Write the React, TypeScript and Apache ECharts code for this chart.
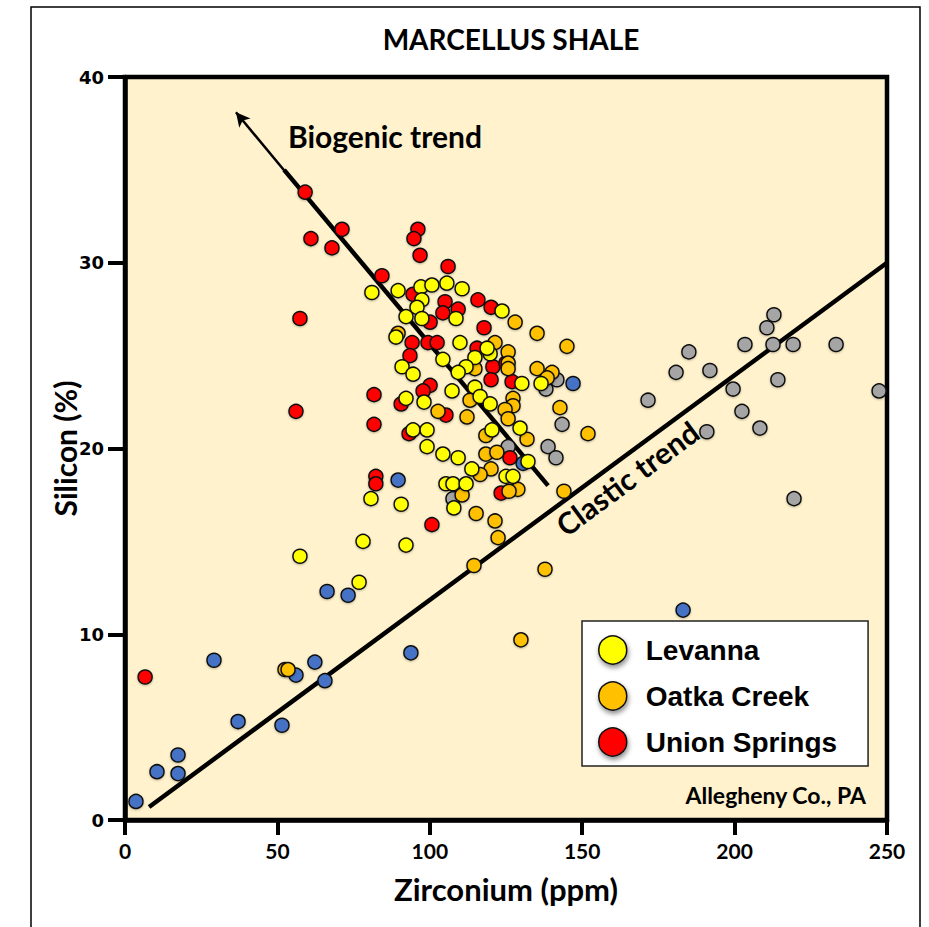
import React, { useEffect, useRef } from "react";
import * as echarts from "echarts";

// Zirconium (ppm) vs Silicon (%) samples, by member
const levanna: number[][] = [
  [81.0, 28.4], [89.6, 28.5], [97.1, 28.7], [100.7, 28.8], [105.6, 28.9], [110.6, 28.6],
  [97.4, 28.0], [95.8, 27.6], [97.4, 27.0], [92.2, 27.1], [108.6, 27.0], [123.7, 27.4],
  [88.9, 26.0], [109.9, 25.7], [104.3, 24.8], [114.8, 24.9], [119.8, 25.1], [118.8, 25.4],
  [90.9, 24.4], [94.5, 24.0], [111.9, 24.4], [109.3, 24.1], [130.2, 23.5], [136.5, 23.5],
  [107.3, 23.1], [114.8, 23.3], [116.5, 22.8], [119.8, 22.4], [92.2, 22.7], [98.1, 22.5],
  [94.5, 21.0], [99.1, 21.0], [120.4, 21.0], [129.6, 21.1], [99.1, 20.1], [104.3, 19.7],
  [109.3, 19.5], [113.8, 18.9], [132.2, 19.3], [105.3, 18.1], [107.6, 18.1], [111.9, 18.1],
  [125.0, 18.5], [127.3, 18.5], [107.9, 16.8], [90.6, 17.0], [80.7, 17.3], [92.2, 14.8],
  [78.1, 15.0], [76.8, 12.8], [57.4, 14.2],
];

const oatkaCreek: number[][] = [
  [128.0, 26.8], [135.2, 26.2], [145.0, 25.5], [121.4, 25.7], [89.6, 26.2], [125.7, 25.2],
  [125.7, 24.6], [125.7, 24.3], [135.2, 24.3], [140.1, 24.1], [138.5, 23.8], [114.8, 24.3],
  [127.3, 22.7], [127.3, 22.3], [113.2, 22.6], [124.7, 22.1], [102.7, 22.0], [112.2, 21.7],
  [125.7, 21.6], [142.7, 22.2], [118.4, 20.7], [131.9, 20.5], [118.4, 19.7], [122.0, 19.8],
  [120.1, 18.9], [116.5, 18.6], [128.9, 17.8], [126.0, 17.7], [110.6, 17.5], [115.2, 16.5],
  [121.4, 16.1], [122.4, 15.2], [144.0, 17.7], [151.9, 20.8], [114.5, 13.7], [137.8, 13.5],
  [129.9, 9.7], [52.5, 8.1], [53.5, 8.1],
];

const unionSprings: number[][] = [
  [59.1, 33.8], [61.0, 31.3], [71.2, 31.8], [67.9, 30.8], [96.1, 31.8], [94.8, 31.3],
  [96.8, 30.4], [84.3, 29.3], [106.0, 29.8], [94.5, 28.3], [105.0, 27.9], [104.3, 27.3],
  [109.3, 27.5], [100.1, 26.8], [115.8, 28.0], [120.1, 27.6], [117.8, 26.5], [94.2, 25.7],
  [99.4, 25.7], [102.4, 25.7], [93.5, 25.0], [115.5, 25.4], [120.7, 24.4], [120.1, 23.7],
  [127.0, 23.6], [125.0, 24.6], [100.1, 23.4], [97.8, 23.1], [90.6, 22.4], [81.7, 22.9],
  [105.3, 21.8], [81.7, 21.3], [93.2, 20.8], [57.4, 27.0], [56.1, 22.0], [82.3, 18.5],
  [82.3, 18.1], [126.3, 19.5], [123.4, 17.6], [100.7, 15.9], [6.6, 7.7],
];

// Samples plotted without a legend entry
const otherBlue: number[][] = [
  [147.0, 23.5], [130.6, 19.2], [89.6, 18.3], [66.3, 12.3], [73.2, 12.1], [29.2, 8.6],
  [56.1, 7.8], [62.3, 8.5], [65.6, 7.5], [93.8, 9.0], [37.1, 5.3], [51.5, 5.1],
  [17.4, 3.5], [10.5, 2.6], [17.4, 2.5], [3.6, 1.0], [183.1, 11.3],
];

const otherGray: number[][] = [
  [212.9, 27.2], [210.6, 26.5], [203.4, 25.6], [212.6, 25.6], [219.2, 25.6], [233.3, 25.6],
  [185.0, 25.2], [180.8, 24.1], [191.9, 24.2], [214.2, 23.7], [247.4, 23.1], [199.5, 23.2],
  [171.6, 22.6], [202.4, 22.0], [208.3, 21.1], [190.9, 20.9], [219.5, 17.3], [141.7, 23.7],
  [138.1, 23.2], [143.4, 21.3], [138.8, 20.1], [141.4, 19.5], [125.7, 20.1], [107.6, 17.3],
];

// Trend lines in data units
const biogenicTrend: number[][] = [[52.2, 35.0], [138.8, 18.0]];
const biogenicArrow: number[][] = [[54.1, 34.6], [36.4, 38.1]];
const clasticTrend: number[][] = [[7.9, 0.7], [250, 30.0]];

const xTicks = { min: 0, max: 250, interval: 50 };
const yTicks = { min: 0, max: 40, interval: 10 };

const CALIBRI = "Lato, 'Open Sans', sans-serif";

const pointStyle = (color: string) => ({
  color,
  opacity: 1,
  borderColor: "#111",
  borderWidth: 1.5,
  shadowBlur: 2,
  shadowColor: "rgba(0,0,0,0.25)",
  shadowOffsetY: 1,
});

const scatter = (name: string, data: number[][], color: string) => ({
  name,
  type: "scatter",
  data,
  symbol: "circle",
  symbolSize: 14,
  z: 3,
  itemStyle: pointStyle(color),
});

export default function App() {
  const ref = useRef<HTMLDivElement>(null);

  useEffect(() => {
    const chart = echarts.init(ref.current!, null, { renderer: "svg" });
    chart.setOption({
      animation: false,
      backgroundColor: "#ffffff",
      title: {
        text: "MARCELLUS SHALE",
        left: 506,
        top: 20,
        textAlign: "center",
        textStyle: { fontFamily: CALIBRI, fontWeight: "bold", fontSize: 28, color: "#000" },
      },
      grid: {
        left: 125,
        right: 42,
        top: 77,
        bottom: 107,
        show: true,
        backgroundColor: "#FFF2CC",
        borderColor: "#000",
        borderWidth: 4.5,
      },
      legend: {
        data: ["Levanna", "Oatka Creek", "Union Springs"],
        orient: "vertical",
        left: 582,
        top: 621,
        padding: [14, 31, 9, 16],
        itemWidth: 28,
        itemHeight: 28,
        itemGap: 16,
        backgroundColor: "#ffffff",
        borderColor: "#222",
        borderWidth: 1.5,
        icon: "circle",
        itemStyle: {
          opacity: 1,
          borderColor: "#111",
          borderWidth: 1.5,
          shadowBlur: 5,
          shadowColor: "rgba(0,0,0,0.45)",
          shadowOffsetX: 1,
          shadowOffsetY: 3,
        },
        textStyle: {
          fontFamily: "'Liberation Sans', Arial, sans-serif",
          fontWeight: "bold",
          fontSize: 28,
          lineHeight: 30,
          color: "#000",
          padding: [0, 0, 0, 14],
        },
      },
      xAxis: {
        type: "value",
        ...xTicks,
        name: "Zirconium (ppm)",
        nameLocation: "middle",
        nameGap: 53,
        nameMoveOverlap: false,
        nameTextStyle: { fontFamily: CALIBRI, fontWeight: "bold", fontSize: 31, color: "#000" },
        axisLine: { show: true, lineStyle: { color: "#000", width: 4.5 } },
        axisTick: { show: true, length: 15, lineStyle: { color: "#000", width: 4 } },
        axisLabel: { fontFamily: CALIBRI, fontWeight: "bold", fontSize: 21, color: "#000", margin: 20 },
        splitLine: { show: false },
      },
      yAxis: {
        type: "value",
        ...yTicks,
        name: "Silicon (%)",
        nameLocation: "middle",
        nameGap: 45,
        nameMoveOverlap: false,
        nameTextStyle: { fontFamily: CALIBRI, fontWeight: "bold", fontSize: 30, color: "#000" },
        axisLine: { show: true, lineStyle: { color: "#000", width: 4.5 } },
        axisTick: { show: true, length: 17, lineStyle: { color: "#000", width: 4 } },
        axisLabel: { fontFamily: "'DejaVu Sans', Verdana, sans-serif", fontWeight: "bold", fontSize: 18, color: "#000", margin: 21 },
        splitLine: { show: false },
      },
      series: [
        {
          name: "Clastic trend",
          type: "line",
          data: clasticTrend,
          symbol: "none",
          silent: true,
          z: 1,
          lineStyle: { color: "#000", width: 4.5 },
        },
        {
          name: "Biogenic trend",
          type: "line",
          data: biogenicTrend,
          symbol: "none",
          silent: true,
          z: 1,
          lineStyle: { color: "#000", width: 4.5 },
          markLine: {
            silent: true,
            symbol: ["none", "arrow"],
            symbolSize: [11, 14],
            label: { show: false },
            lineStyle: { color: "#000", width: 2.5, type: "solid" },
            data: [[{ coord: biogenicArrow[0] }, { coord: biogenicArrow[1] }]],
          },
        },
        scatter("Gray", otherGray, "#A5A5A5"),
        scatter("Blue", otherBlue, "#4472C4"),
        scatter("Union Springs", unionSprings, "#FF0000"),
        scatter("Oatka Creek", oatkaCreek, "#FFC000"),
        scatter("Levanna", levanna, "#FFFF00"),
      ],
      graphic: [
        {
          type: "rect",
          shape: { x: 31, y: 7, width: 889, height: 940 },
          style: { fill: "none", stroke: "#000", lineWidth: 1.5 },
          silent: true,
          z: 100,
        },
        {
          type: "text",
          x: 385,
          y: 136,
          style: {
            text: "Biogenic trend",
            font: `bold 30px ${CALIBRI}`,
            fill: "#000",
            align: "center",
            verticalAlign: "middle",
          },
          z: 100,
        },
        {
          type: "text",
          x: 627,
          y: 478,
          rotation: (36.6 * Math.PI) / 180,
          style: {
            text: "Clastic trend",
            font: `bold 30px ${CALIBRI}`,
            fill: "#000",
            align: "center",
            verticalAlign: "middle",
          },
          z: 100,
        },
        {
          type: "text",
          x: 866,
          y: 795,
          style: {
            text: "Allegheny Co., PA",
            font: `bold 23px ${CALIBRI}`,
            fill: "#000",
            align: "right",
            verticalAlign: "middle",
          },
          z: 100,
        },
      ],
    });
    return () => chart.dispose();
  }, []);

  return (
    <div
      ref={ref}
      style={{ position: "fixed", left: 0, top: 0, width: 929, height: 927, background: "#fff" }}
    />
  );
}
